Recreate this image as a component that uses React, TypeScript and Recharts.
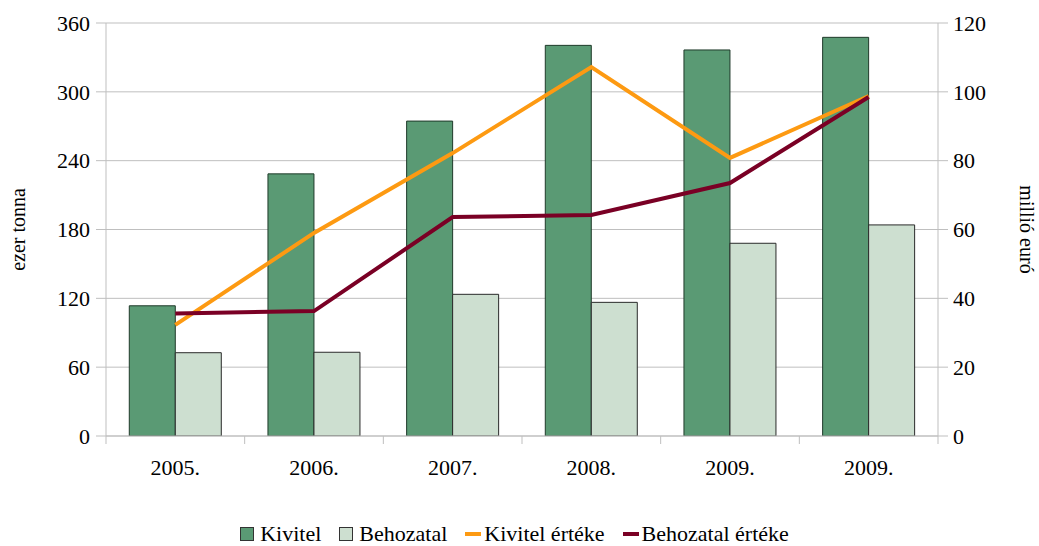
import { ComposedChart, Bar, Line, XAxis, YAxis, CartesianGrid, Legend } from 'recharts';

const years = ['2005.', '2006.', '2007.', '2008.', '2009.', '2009.'];
const kivitel = [113.5, 228.5, 274.5, 340.5, 336.5, 347.5];
const behozatal = [72.6, 73, 123.5, 116.5, 168, 184];
const kivitelErteke = [32.3, 59, 82.2, 107.2, 80.8, 98.8];
const behozatalErteke = [35.6, 36.3, 63.6, 64.2, 73.5, 98.5];
const leftTicks = [0, 60, 120, 180, 240, 300, 360];
const rightTicks = [0, 20, 40, 60, 80, 100, 120];

const data = years.map((year, i) => ({
  year,
  kivitel: kivitel[i],
  behozatal: behozatal[i],
  kivitelErteke: kivitelErteke[i],
  behozatalErteke: behozatalErteke[i],
}));

const FONT = 'Liberation Serif, serif';
const W = 1039;
const H = 546;
const LEFT = 106;
const RIGHT = 101;
const STEP = (W - LEFT - RIGHT) / years.length;

const legendItems = [
  { label: 'Kivitel', type: 'box', color: '#5a9a74' },
  { label: 'Behozatal', type: 'box', color: '#cddfd0' },
  { label: 'Kivitel értéke', type: 'line', color: '#fd9a12' },
  { label: 'Behozatal értéke', type: 'line', color: '#7a0025' },
];

function XTick(props: any) {
  const { x, y, payload, index } = props;
  return (
    <g>
      <line x1={x - STEP / 2} x2={x - STEP / 2} y1={y - 8} y2={y} stroke="#bfbfbf" />
      {index === years.length - 1 && (
        <line x1={x + STEP / 2} x2={x + STEP / 2} y1={y - 8} y2={y} stroke="#bfbfbf" />
      )}
      <text x={x} y={y + 31} textAnchor="middle" fontSize={22} fill="#000" style={{ fontFamily: FONT }}>
        {payload.value}
      </text>
    </g>
  );
}

function SideLabel(props: any) {
  const { viewBox, value, side } = props;
  const cx = side === 'left' ? viewBox.x + 18 : viewBox.x + viewBox.width - 12;
  const cy = viewBox.y + viewBox.height / 2;
  return (
    <text
      x={cx}
      y={cy}
      textAnchor="middle"
      dominantBaseline="central"
      fontSize={20}
      style={{ fontFamily: FONT }}
      fill="#000"
      transform={`rotate(${side === 'left' ? -90 : 90} ${cx} ${cy})`}
    >
      {value}
    </text>
  );
}

function LegendContent() {
  return (
    <div
      style={{
        display: 'flex',
        justifyContent: 'center',
        alignItems: 'center',
        fontFamily: FONT,
        fontSize: 22,
        lineHeight: '20px',
        height: 20,
        color: '#000',
        marginTop: 48,
        paddingLeft: 8,
      }}
    >
      {legendItems.map((it) => (
        <div key={it.label} style={{ display: 'flex', alignItems: 'center', marginRight: 18 }}>
          {it.type === 'box' ? (
            <span
              style={{
                display: 'inline-block',
                width: 12,
                height: 12,
                background: it.color,
                border: '1px solid #333',
                marginRight: 6,
              }}
            />
          ) : (
            <span
              style={{
                display: 'inline-block',
                width: 16,
                height: 4,
                background: it.color,
                marginRight: 3,
              }}
            />
          )}
          <span>{it.label}</span>
        </div>
      ))}
    </div>
  );
}

const tickStyle = { fontSize: 22, fill: '#000', style: { fontFamily: FONT } };

export default function App() {
  return (
    <div style={{ position: 'absolute', left: 0, top: 0, background: '#fff', fontFamily: FONT }}>
      <ComposedChart
        width={W}
        height={H}
        data={data}
        margin={{ top: 23, right: 0, left: 0, bottom: 0 }}
        barCategoryGap="16.8%"
        barGap={0}
        style={{ fontFamily: FONT }}
      >
        <CartesianGrid vertical={false} stroke="#bfbfbf" yAxisId="left" />
        <XAxis
          dataKey="year"
          height={40}
          axisLine={{ stroke: '#bfbfbf' }}
          tickLine={false}
          tick={<XTick />}
          interval={0}
        />
        <YAxis
          yAxisId="left"
          orientation="left"
          width={LEFT}
          domain={[0, 360]}
          ticks={leftTicks}
          allowDataOverflow
          axisLine={{ stroke: '#bfbfbf' }}
          tickLine={{ stroke: '#bfbfbf' }}
          tickSize={10}
          tickMargin={6}
          tick={tickStyle}
          label={<SideLabel value="ezer tonna" side="left" />}
        />
        <YAxis
          yAxisId="right"
          orientation="right"
          width={RIGHT}
          domain={[0, 120]}
          ticks={rightTicks}
          allowDataOverflow
          axisLine={{ stroke: '#bfbfbf' }}
          tickLine={{ stroke: '#bfbfbf' }}
          tickSize={10}
          tickMargin={5}
          tick={tickStyle}
          label={<SideLabel value="millió euró" side="right" />}
        />
        <Bar yAxisId="left" dataKey="kivitel" name="Kivitel" fill="#5a9a74" stroke="#1f3a2a" strokeWidth={1} isAnimationActive={false} />
        <Bar yAxisId="left" dataKey="behozatal" name="Behozatal" fill="#cddfd0" stroke="#2a2a2a" strokeWidth={1} isAnimationActive={false} />
        <Line yAxisId="right" dataKey="kivitelErteke" name="Kivitel értéke" stroke="#fd9a12" strokeWidth={4} dot={false} isAnimationActive={false} strokeLinejoin="miter" />
        <Line yAxisId="right" dataKey="behozatalErteke" name="Behozatal értéke" stroke="#7a0025" strokeWidth={4} dot={false} isAnimationActive={false} strokeLinejoin="miter" />
        <Legend verticalAlign="bottom" height={70} content={<LegendContent />} />
      </ComposedChart>
    </div>
  );
}
